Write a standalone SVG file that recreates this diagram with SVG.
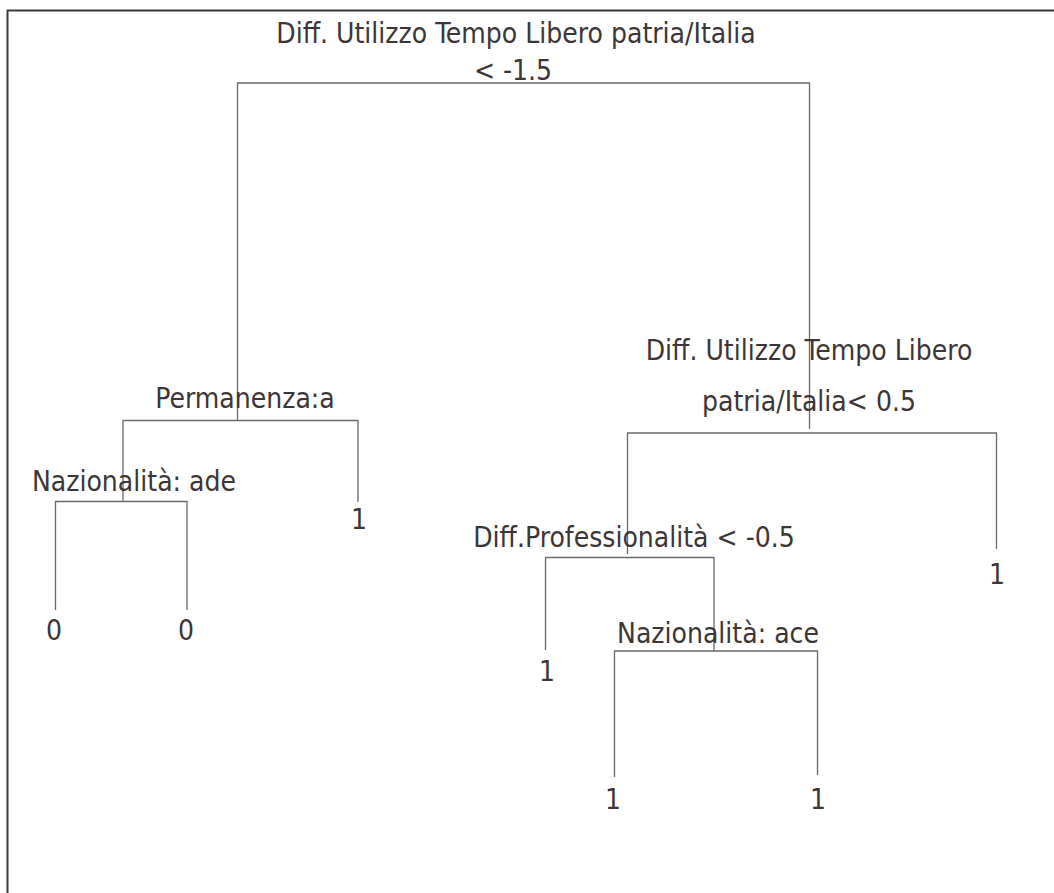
<svg xmlns="http://www.w3.org/2000/svg" width="1054" height="893" viewBox="0 0 1054 893">
  <style>
    .frame { fill: none; stroke: #3a3a3a; stroke-width: 2; }
    .edge { fill: none; stroke: #6e6969; stroke-width: 1.3; }
    .lbl { font-family: "DejaVu Sans Condensed", "DejaVu Sans", sans-serif; font-stretch: condensed; font-size: 28px; fill: #3d3636; text-anchor: middle; }
  </style>
  <rect width="1054" height="893" fill="#ffffff"/>
  <!-- outer frame, extending past the right and bottom edges -->
  <polyline class="frame" points="7.5,900 7.5,10.5 1060,10.5"/>

  <!-- tree edges -->
  <g id="connectors">
    <!-- root split -->
    <polyline class="edge" points="237.5,420 237.5,83 809.5,83 809.5,429"/>
    <!-- Permanenza:a -->
    <polyline class="edge" points="123,501 123,420.5 358,420.5 358,502"/>
    <!-- Nazionalità: ade -->
    <polyline class="edge" points="55.5,610 55.5,501.5 187,501.5 187,610"/>
    <!-- Diff. Utilizzo Tempo Libero patria/Italia < 0.5 -->
    <polyline class="edge" points="627.5,554 627.5,433 996.5,433 996.5,549"/>
    <!-- Diff.Professionalità < -0.5 -->
    <polyline class="edge" points="545.5,650 545.5,557.5 714,557.5 714,651"/>
    <!-- Nazionalità: ace -->
    <polyline class="edge" points="614.5,777 614.5,651 817.5,651 817.5,775"/>
  </g>

  <g id="n-root">
    <text class="lbl" x="516" y="43">Diff. Utilizzo Tempo Libero patria/Italia</text>
    <text class="lbl" x="513" y="80">&lt; -1.5</text>
  </g>
  <g id="n-permanenza">
    <text class="lbl" x="245" y="408">Permanenza:a</text>
  </g>
  <g id="n-naz-ade">
    <text class="lbl" x="134" y="491">Nazionalità: ade</text>
  </g>
  <g id="leaf-0a">
    <text class="lbl" x="54" y="640">0</text>
  </g>
  <g id="leaf-0b">
    <text class="lbl" x="186" y="640">0</text>
  </g>
  <g id="leaf-1a">
    <text class="lbl" x="359" y="529">1</text>
  </g>
  <g id="n-tempo">
    <text class="lbl" x="809" y="360">Diff. Utilizzo Tempo Libero</text>
    <text class="lbl" x="809" y="411">patria/Italia&lt; 0.5</text>
  </g>
  <g id="n-prof">
    <text class="lbl" x="634" y="547">Diff.Professionalità &lt; -0.5</text>
  </g>
  <g id="leaf-1b">
    <text class="lbl" x="547" y="681">1</text>
  </g>
  <g id="n-naz-ace">
    <text class="lbl" x="718" y="643">Nazionalità: ace</text>
  </g>
  <g id="leaf-1c">
    <text class="lbl" x="613" y="809">1</text>
  </g>
  <g id="leaf-1d">
    <text class="lbl" x="818" y="809">1</text>
  </g>
  <g id="leaf-1e">
    <text class="lbl" x="997" y="584">1</text>
  </g>
</svg>
